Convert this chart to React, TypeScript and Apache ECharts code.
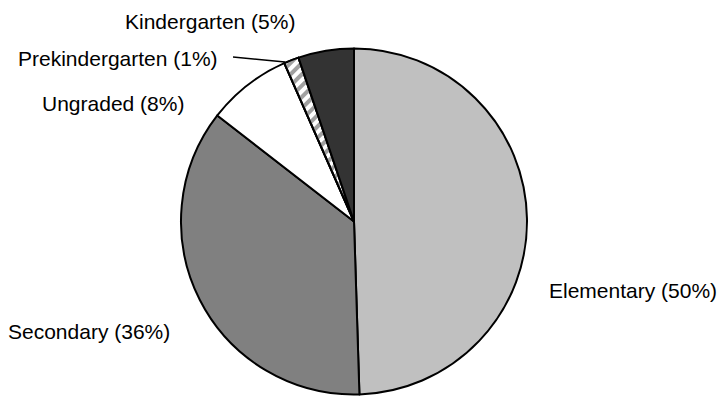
import React, { useEffect, useRef } from "react";
import * as echarts from "echarts";

const categories = ["Elementary", "Secondary", "Ungraded", "Prekindergarten", "Kindergarten"];
const shares = [49.5, 36.0, 7.9, 1.4, 5.2];

const sliceColors = ["#c0c0c0", "#808080", "#ffffff", "#ffffff", "#333333"];

// label anchor positions (left edge x, vertical centre y)
const labelSpots = [
  { x: 549, y: 290 },
  { x: 8, y: 331 },
  { x: 42, y: 103 },
  { x: 18, y: 58 },
  { x: 125, y: 21 },
];

export default function App() {
  const ref = useRef<HTMLDivElement>(null);
  useEffect(() => {
    document.body.style.margin = "0";
    if (!ref.current) return;
    const chart = echarts.init(ref.current, undefined, { renderer: "svg" });
    const data = categories.map((name, i) => {
      const item: any = {
        name,
        value: shares[i],
        itemStyle: { color: sliceColors[i] },
        labelLine: { show: false },
      };
      if (name === "Prekindergarten") {
        item.itemStyle.decal = {
          symbol: "rect",
          symbolSize: 1,
          dashArrayX: [1, 0],
          dashArrayY: [4, 4],
          rotation: -Math.PI / 4,
          color: "#a0a0a0",
          backgroundColor: "#ffffff",
        };
        item.labelLine = { show: true, lineStyle: { color: "#000", width: 1.5 } };
      }
      return item;
    });
    chart.setOption({
      animation: false,
      backgroundColor: "#ffffff",
      series: [
        {
          type: "pie",
          center: [354, 221.5],
          radius: 173,
          startAngle: 90,
          clockwise: true,
          silent: true,
          emphasis: { disabled: true },
          itemStyle: { borderColor: "#000", borderWidth: 2 },
          label: {
            show: true,
            position: "outside",
            overflow: "none",
            width: 300,
            color: "#000",
            fontFamily: "Liberation Sans, Arial, sans-serif",
            fontSize: 21,
            formatter: (p: any) => `${p.name} (${Math.round(p.percent)}%)`,
          },
          labelLayout: (p: any) => {
            const s = labelSpots[p.dataIndex];
            const out: any = { x: s.x, y: s.y, align: "left", verticalAlign: "middle" };
            if (categories[p.dataIndex] === "Prekindergarten") {
              out.labelLinePoints = [
                [285, 62],
                [259, 59.5],
                [233, 57],
              ];
            }
            return out;
          },
          data,
        },
      ],
    });
    return () => chart.dispose();
  }, []);
  return <div ref={ref} style={{ width: 722, height: 397 }} />;
}
